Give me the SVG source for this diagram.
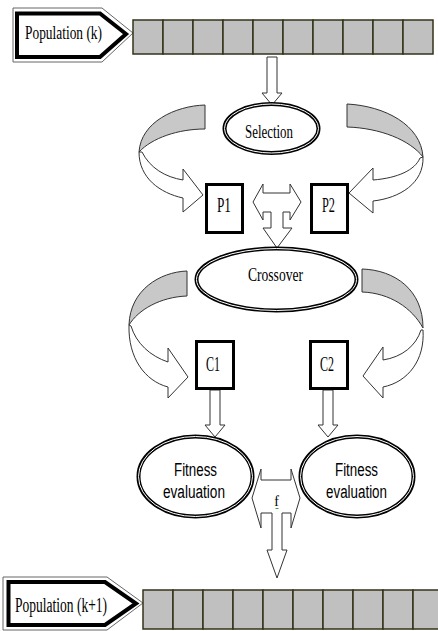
<svg xmlns="http://www.w3.org/2000/svg" width="438" height="631" viewBox="0 0 438 631">
<style>
.cell{fill:#c0c0c0;stroke:#33331a;stroke-width:1.5}
.pentO{fill:#fff;stroke:#666;stroke-width:1}
.pentI{fill:none;stroke:#000;stroke-width:4;stroke-linejoin:miter}
.ser{font-family:"Liberation Serif","Times New Roman",serif;fill:#000}
.san{font-family:"Liberation Sans",Arial,sans-serif;fill:#000}
.ell{fill:#fff;stroke:#000;stroke-width:4}
.ellG{fill:none;stroke:#fff;stroke-width:1}
.box{fill:#fff;stroke:#000;stroke-width:3}
.blk{fill:#fff;stroke:#333;stroke-width:1;stroke-linejoin:miter}
.gray{fill:#c8c8c8;stroke:#333;stroke-width:1}
.wht{fill:#fff;stroke:#333;stroke-width:1}
</style>

<g id="population-k">
  <polygon class="pentO" points="13,8 102,8 133,33 102,62 13,62"/>
  <polygon class="pentI" points="17,13.5 100,13.5 126,34 100,57 17,57"/>
  <text class="ser" x="25" y="39" font-size="19" textLength="77" lengthAdjust="spacingAndGlyphs">Population (k)</text>
  <g>
    <rect class="cell" x="133" y="20" width="30" height="34"/>
    <rect class="cell" x="163" y="20" width="30" height="34"/>
    <rect class="cell" x="193" y="20" width="30" height="34"/>
    <rect class="cell" x="223" y="20" width="30" height="34"/>
    <rect class="cell" x="253" y="20" width="30" height="34"/>
    <rect class="cell" x="283" y="20" width="30" height="34"/>
    <rect class="cell" x="313" y="20" width="30" height="34"/>
    <rect class="cell" x="343" y="20" width="30" height="34"/>
    <rect class="cell" x="373" y="20" width="30" height="34"/>
    <rect class="cell" x="403" y="20" width="30" height="34"/>
  </g>
</g>

<g id="connectors">
  <polygon class="blk" points="267,57 277,57 277,93 282,93 272,105 262,93 267,93"/>
  <!-- top-left curved arrow -->
  <path class="gray" d="M205,105 C175,106 141,122 139,152 C152,138 178,129 205,129 Z"/>
  <path class="wht" d="M139,152 C139,178 160,193 183,198 L183,212 L203,195 L183,169 L183,180 C165,177 150,168 142,152 Z"/>
  <!-- top-right curved arrow -->
  <path class="gray" d="M347,104 C385,106 421,125 423,157 C410,140 380,128 347,127 Z"/>
  <path class="wht" d="M423,157 C424,183 400,198 373,201 L373,213 L349,193 L373,168 L373,180 C398,178 415,170 420,158 Z"/>
  <!-- T arrow P1/P2 to crossover -->
  <polygon class="blk" points="253,202 263,184 263,193 290,193 290,184 301,202 290,220 290,212 283,212 283,228 292,228 277,248 263,228 271,228 271,212 263,212 263,220"/>
  <!-- middle-left curved arrow -->
  <path class="gray" d="M187,271 C160,272 130,290 129,325 C138,310 160,297 187,296 Z"/>
  <path class="wht" d="M129,325 C128,358 145,381 168,387 L168,398 L188,377 L168,348 L168,362 C150,356 136,343 131,326 Z"/>
  <!-- middle-right curved arrow -->
  <path class="gray" d="M362,269 C395,270 423,290 423,328 C412,308 390,293 362,292 Z"/>
  <path class="wht" d="M423,330 C425,360 408,382 383,387 L383,398 L363,376 L383,347 L383,360 C402,357 416,346 421,330 Z"/>
  <!-- C1/C2 down arrows -->
  <polygon class="blk" points="210,390 220,390 220,425 225,425 215,437 205,425 210,425"/>
  <polygon class="blk" points="323,390 333,390 333,425 338,425 328,437 318,425 323,425"/>
  <!-- f arrow -->
  <polygon class="blk" points="252,498 261,469 261,480 291,480 291,469 300,498 291,528 291,513 282,513 282,550 287,550 277,578 267,550 272,550 272,513 261,513 261,528"/>
  <text class="ser" x="276.5" y="506" font-size="14" text-anchor="middle">f</text>
  <line x1="275.5" y1="508.5" x2="278.5" y2="508.5" stroke="#3a3" stroke-width="1"/>
</g>

<g id="selection">
  <ellipse class="ell" cx="271.5" cy="128.5" rx="47" ry="24.5"/>
  <ellipse class="ellG" cx="271.5" cy="128.5" rx="47" ry="24.5"/>
  <text class="ser" x="245" y="138" font-size="18" textLength="48" lengthAdjust="spacingAndGlyphs">Selection</text>
</g>

<g id="p1">
  <rect class="box" x="206.5" y="184.5" width="36" height="48"/>
  <text class="ser" x="217" y="212" font-size="20" textLength="14" lengthAdjust="spacingAndGlyphs">P1</text>
</g>
<g id="p2">
  <rect class="box" x="311.5" y="184.5" width="36" height="48"/>
  <text class="ser" x="322" y="212" font-size="20" textLength="13" lengthAdjust="spacingAndGlyphs">P2</text>
</g>

<g id="crossover">
  <ellipse class="ell" cx="276.5" cy="279.5" rx="80" ry="31"/>
  <ellipse class="ellG" cx="276.5" cy="279.5" rx="80" ry="31"/>
  <text class="ser" x="248" y="281" font-size="18" textLength="55" lengthAdjust="spacingAndGlyphs">Crossover</text>
</g>

<g id="c1">
  <rect class="box" x="196.5" y="341.5" width="37" height="47"/>
  <text class="ser" x="206" y="371" font-size="21" textLength="14" lengthAdjust="spacingAndGlyphs">C1</text>
</g>
<g id="c2">
  <rect class="box" x="310.5" y="341.5" width="37" height="47"/>
  <text class="ser" x="320" y="371" font-size="21" textLength="14" lengthAdjust="spacingAndGlyphs">C2</text>
</g>

<g id="fitness-1">
  <ellipse class="ell" cx="195.5" cy="476.5" rx="57" ry="40" stroke-width="4.5"/>
  <ellipse class="ellG" cx="195.5" cy="476.5" rx="57" ry="40"/>
  <text class="san" x="174" y="476" font-size="18" textLength="43" lengthAdjust="spacingAndGlyphs">Fitness</text>
  <text class="san" x="163" y="498" font-size="18" textLength="62" lengthAdjust="spacingAndGlyphs">evaluation</text>
</g>
<g id="fitness-2">
  <ellipse class="ell" cx="357" cy="476.5" rx="56.5" ry="40" stroke-width="4.5"/>
  <ellipse class="ellG" cx="357" cy="476.5" rx="56.5" ry="40"/>
  <text class="san" x="335" y="476" font-size="18" textLength="43" lengthAdjust="spacingAndGlyphs">Fitness</text>
  <text class="san" x="326" y="498" font-size="18" textLength="61" lengthAdjust="spacingAndGlyphs">evaluation</text>
</g>

<g id="population-k1">
  <polygon class="pentO" points="3,577 107,577 143,603 107,630 3,630"/>
  <polygon class="pentI" points="8.5,582 105,582 136,603.5 105,625 8.5,625"/>
  <text class="ser" x="15" y="612" font-size="20" textLength="92" lengthAdjust="spacingAndGlyphs">Population (k+1)</text>
  <g>
    <rect class="cell" x="143" y="590" width="30" height="39"/>
    <rect class="cell" x="173" y="590" width="30" height="39"/>
    <rect class="cell" x="203" y="590" width="30" height="39"/>
    <rect class="cell" x="233" y="590" width="30" height="39"/>
    <rect class="cell" x="263" y="590" width="30" height="39"/>
    <rect class="cell" x="293" y="590" width="30" height="39"/>
    <rect class="cell" x="323" y="590" width="30" height="39"/>
    <rect class="cell" x="353" y="590" width="30" height="39"/>
    <rect class="cell" x="383" y="590" width="30" height="39"/>
    <rect class="cell" x="413" y="590" width="30" height="39"/>
  </g>
</g>
</svg>
